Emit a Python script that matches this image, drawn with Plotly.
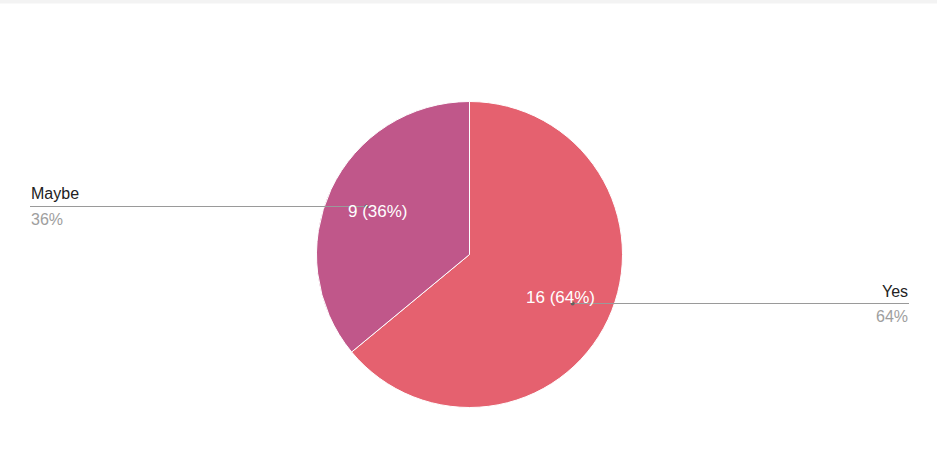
import math
import plotly.graph_objects as go

# ---- data ----
labels = ["Yes", "Maybe"]
counts = [16, 9]
colors = ["#E5616F", "#C0578A"]

# ---- layout constants (pixels) ----
W, H = 937, 470
CX, CY, R = 469.5, 254.5, 153.0
LEFT_X, RIGHT_X = 30, 909
FONT = "Liberation Sans, Arial"

def px(x):
    return x / W

def py(y):
    return 1 - y / H

total = sum(counts)
pcts = [c / total * 100 for c in counts]

fig = go.Figure(go.Pie(
    labels=labels,
    values=counts,
    sort=False,
    direction="clockwise",
    rotation=0,
    marker=dict(colors=colors, line=dict(color="white", width=1)),
    textinfo="none",
    hoverinfo="label+value+percent",
    showlegend=False,
    domain=dict(x=[px(CX - R), px(CX + R)], y=[py(CY + R), py(CY - R)]),
))

annotations = []
shapes = []
# top grey strip
shapes.append(dict(type="rect", xref="paper", yref="paper", x0=0, x1=1,
                   y0=py(3.5), y1=1, fillcolor="#F3F3F3", line=dict(width=0), layer="below"))

cum = 0.0
for lab, c, p in zip(labels, counts, pcts):
    mid = (cum + c / 2) / total * 2 * math.pi
    cum += c
    dx, dy = math.sin(mid), -math.cos(mid)
    # leader line anchor
    ax, ay = CX + 0.745 * R * dx, CY + 0.745 * R * dy
    ay = round(ay) + 0.5
    ex = LEFT_X if dx < 0 else RIGHT_X
    shapes.append(dict(type="line", xref="paper", yref="paper",
                       x0=px(ax), y0=py(ay), x1=px(ex), y1=py(ay),
                       line=dict(color="#9A9A9A", width=1)))
    shapes.append(dict(type="circle", xref="paper", yref="paper",
                       x0=px(ax - 2), x1=px(ax + 2), y0=py(ay + 2), y1=py(ay - 2),
                       fillcolor="#636363", line=dict(width=0)))
    # inside label
    tx, ty = CX + 0.66 * R * dx, CY + 0.66 * R * dy
    annotations.append(dict(x=px(tx), y=py(ty), xref="paper", yref="paper",
                            text=f"{c} ({p:.0f}%)", showarrow=False,
                            font=dict(family=FONT, size=17, color="white")))
    anchor = "left" if dx < 0 else "right"
    annotations.append(dict(x=px(ex), y=py(ay - 3), xref="paper", yref="paper",
                            xanchor=anchor, yanchor="bottom", text=lab, showarrow=False,
                            borderpad=0,
                            font=dict(family=FONT, size=16, color="#222222")))
    annotations.append(dict(x=px(ex), y=py(ay + 3), xref="paper", yref="paper",
                            xanchor=anchor, yanchor="top", text=f"{p:.0f}%", showarrow=False,
                            borderpad=0,
                            font=dict(family=FONT, size=16, color="#9E9E9E")))

fig.update_layout(
    width=W, height=H,
    margin=dict(l=0, r=0, t=0, b=0),
    paper_bgcolor="white",
    plot_bgcolor="white",
    annotations=annotations,
    shapes=shapes,
)

fig.write_html("out.html",
               config={"displayModeBar": False},
               post_script="document.body.style.margin='0';document.body.style.overflow='hidden';")
